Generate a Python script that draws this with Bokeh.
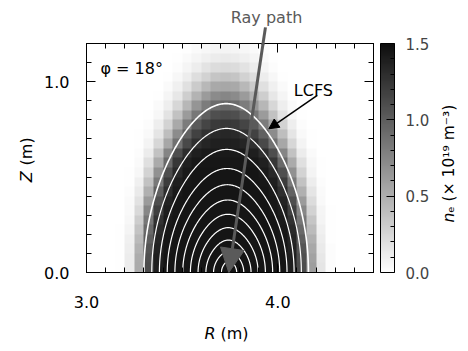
import numpy as np
from bokeh.plotting import figure
from bokeh.models import (LinearColorMapper, ColorBar, FixedTicker, Range1d, Label,
                          Arrow, NormalHead, LinearAxis, NumeralTickFormatter)
from bokeh.embed import file_html
from bokeh.resources import INLINE

# ---------------- data ----------------
R_RANGE = (3.0, 4.5)
Z_RANGE = (0.0, 1.2)
CELL = 0.05   # grid spacing of the density map (m)

# electron density (1e19 m^-3), rows from Z=0 upward, 30 columns from R=3.0
ne_rows = [
    [0,0,0,.01,.12,.52,1.11,1.39,1.45,1.45,1.45,1.45,1.45,1.45,1.45,1.45,1.45,1.45,1.45,1.45,1.45,1.39,1.11,.60,.16,.02,0,0,0,0],
    [0,0,0,.01,.12,.51,1.09,1.39,1.45,1.45,1.45,1.45,1.45,1.45,1.45,1.45,1.45,1.45,1.45,1.45,1.45,1.39,1.09,.58,.15,.02,0,0,0,0],
    [0,0,0,.01,.10,.48,1.06,1.37,1.44,1.45,1.45,1.45,1.45,1.45,1.45,1.45,1.45,1.45,1.45,1.45,1.44,1.37,1.06,.54,.13,.02,0,0,0,0],
    [0,0,0,.01,.09,.43,1.00,1.35,1.44,1.45,1.45,1.45,1.45,1.45,1.45,1.45,1.45,1.45,1.45,1.45,1.44,1.35,1.00,.49,.11,.01,0,0,0,0],
    [0,0,0,.01,.07,.37,.93,1.32,1.43,1.45,1.45,1.45,1.45,1.45,1.45,1.45,1.45,1.45,1.45,1.45,1.43,1.32,.93,.42,.09,.01,0,0,0,0],
    [0,0,0,0,.05,.31,.84,1.27,1.42,1.45,1.45,1.45,1.45,1.45,1.45,1.45,1.45,1.45,1.45,1.45,1.42,1.27,.84,.36,.07,.01,0,0,0,0],
    [0,0,0,0,.04,.24,.74,1.19,1.40,1.44,1.45,1.45,1.45,1.45,1.45,1.45,1.45,1.45,1.45,1.44,1.40,1.19,.74,.28,.06,.01,0,0,0,0],
    [0,0,0,0,.03,.18,.62,1.10,1.36,1.44,1.45,1.45,1.45,1.45,1.45,1.45,1.45,1.45,1.45,1.44,1.36,1.10,.62,.22,.04,0,0,0,0,0],
    [0,0,0,0,.02,.13,.49,.98,1.30,1.42,1.45,1.45,1.45,1.45,1.45,1.45,1.45,1.45,1.45,1.42,1.30,.98,.49,.16,.03,0,0,0,0,0],
    [0,0,0,0,.01,.09,.38,.83,1.21,1.39,1.44,1.45,1.45,1.45,1.45,1.45,1.45,1.45,1.44,1.39,1.21,.83,.38,.11,.02,0,0,0,0,0],
    [0,0,0,0,.01,.05,.27,.68,1.09,1.33,1.42,1.45,1.45,1.45,1.45,1.45,1.45,1.45,1.42,1.33,1.09,.68,.27,.07,.01,0,0,0,0,0],
    [0,0,0,0,0,.03,.19,.52,.93,1.24,1.38,1.43,1.44,1.44,1.44,1.44,1.44,1.43,1.38,1.24,.93,.52,.19,.05,.01,0,0,0,0,0],
    [0,0,0,0,0,.02,.12,.38,.76,1.10,1.30,1.39,1.42,1.42,1.42,1.42,1.42,1.39,1.30,1.10,.76,.38,.12,.03,0,0,0,0,0,0],
    [0,0,0,0,0,.01,.07,.25,.55,.88,1.13,1.28,1.35,1.38,1.39,1.38,1.35,1.28,1.13,.88,.55,.25,.07,.01,0,0,0,0,0,0],
    [0,0,0,0,0,.01,.04,.16,.40,.71,.98,1.17,1.27,1.32,1.34,1.32,1.27,1.17,.98,.71,.40,.16,.04,.01,0,0,0,0,0,0],
    [0,0,0,0,0,0,.02,.10,.27,.53,.81,1.02,1.15,1.22,1.24,1.22,1.15,1.02,.81,.53,.27,.10,.02,0,0,0,0,0,0,0],
    [0,0,0,0,0,0,.01,.05,.17,.38,.62,.84,1.00,1.09,1.11,1.09,1.00,.84,.62,.38,.17,.05,.01,0,0,0,0,0,0,0],
    [0,0,0,0,0,0,0,.03,.10,.25,.45,.66,.81,.91,.94,.91,.81,.66,.45,.25,.10,.03,0,0,0,0,0,0,0,0],
    [0,0,0,0,0,0,0,.01,.06,.15,.30,.47,.62,.72,.75,.72,.62,.47,.30,.15,.06,.01,0,0,0,0,0,0,0,0],
    [0,0,0,0,0,0,0,0,.03,.09,.19,.32,.44,.53,.55,.53,.44,.32,.19,.09,.03,0,0,0,0,0,0,0,0,0],
    [0,0,0,0,0,0,0,0,.01,.05,.11,.20,.28,.36,.38,.36,.28,.20,.11,.05,.01,0,0,0,0,0,0,0,0,0],
    [0,0,0,0,0,0,0,0,0,.02,.06,.11,.17,.22,.23,.22,.17,.11,.06,.02,0,0,0,0,0,0,0,0,0,0],
    [0,0,0,0,0,0,0,0,0,.01,.03,.06,.09,.12,.13,.12,.09,.06,.03,.01,0,0,0,0,0,0,0,0,0,0],
    [0,0,0,0,0,0,0,0,0,0,.01,.03,.05,.06,.07,.06,.05,.03,.01,0,0,0,0,0,0,0,0,0,0,0],
]

# flux-surface contours (outermost = LCFS): centre R, half-width at Z=0, top height
contour_center    = [3.730, 3.732, 3.733, 3.735, 3.736, 3.738, 3.739, 3.740, 3.742, 3.743, 3.745]
contour_halfwidth = [0.430, 0.391, 0.352, 0.313, 0.274, 0.235, 0.196, 0.157, 0.118, 0.079, 0.040]
contour_height    = [0.885, 0.755, 0.645, 0.545, 0.460, 0.380, 0.305, 0.235, 0.170, 0.110, 0.060]
SHAPE_PEAK = 0.15   # narrowing of the surfaces towards their top

x_major = [3.0, 4.0]
x_minor = [3.1, 3.2, 3.3, 3.4, 3.5, 3.6, 3.7, 3.8, 3.9, 4.1, 4.2, 4.3, 4.4, 4.5]
y_major = [0.0, 1.0]
y_minor = [0.1, 0.2, 0.3, 0.4, 0.5, 0.6, 0.7, 0.8, 0.9, 1.1, 1.2]
cb_major = [0.0, 0.5, 1.0, 1.5]
cb_minor = [0.1, 0.2, 0.3, 0.4, 0.6, 0.7, 0.8, 0.9, 1.1, 1.2, 1.3, 1.4]
NE_MAX = 1.5

# annotation positions (data units)
RAY_START = (3.9355, 1.2856)
RAY_END = (3.7437, 0.0)
RAY_OUTSIDE_MID = (3.9283, 1.238)   # centre of the part of the ray drawn above the frame
RAY_ANGLE = -0.150
LCFS_ARROW_START = (4.206, 0.928)
LCFS_ARROW_END = (3.953, 0.753)

# ---------------- styling ----------------
FONT = "DejaVu Sans"
FS = "16px"
RAY_COLOR = "#5a5a5a"

levels = np.linspace(255, 14, 256)
palette = ["#%02x%02x%02x" % (int(g), int(g), int(g)) for g in levels]

p = figure(width=468, height=351, x_range=Range1d(*R_RANGE), y_range=Range1d(*Z_RANGE),
           output_backend="svg", toolbar_location=None,
           min_border_left=86, min_border_right=95, min_border_top=43, min_border_bottom=79)
p.grid.visible = False
p.outline_line_color = "black"
p.outline_line_width = 1
p.background_fill_color = "white"
p.border_fill_color = "white"

ne = np.array(ne_rows, dtype=float)
mapper = LinearColorMapper(palette=palette, low=0.0, high=NE_MAX)
p.image(image=[ne], x=R_RANGE[0], y=Z_RANGE[0], dw=ne.shape[1] * CELL, dh=ne.shape[0] * CELL,
        color_mapper=mapper)

# contours
t = np.linspace(0, np.pi, 181)
xs, ys, widths = [], [], []
for i, (c, w, h) in enumerate(zip(contour_center, contour_halfwidth, contour_height)):
    xs.append(list(c + w * np.cos(t) * (1 - SHAPE_PEAK * np.sin(t) ** 2)))
    ys.append(list(h * np.sin(t)))
    widths.append(1.6 if i == 0 else 1.2)
p.multi_line(xs=xs, ys=ys, line_color="white", line_width=widths)


def style_axis(ax, major, minor, labels=True):
    ax.ticker = FixedTicker(ticks=major, minor_ticks=minor)
    ax.formatter = NumeralTickFormatter(format="0.0")
    ax.major_tick_in = 9
    ax.major_tick_out = 0
    ax.minor_tick_in = 5
    ax.minor_tick_out = 0
    ax.major_tick_line_color = "black"
    ax.minor_tick_line_color = "black"
    ax.axis_line_color = "black"
    ax.major_label_text_font = FONT
    ax.major_label_text_font_size = FS
    ax.major_label_text_color = "black"
    if not labels:
        ax.major_label_text_color = None
        ax.major_label_text_font_size = "1px"
        ax.major_label_standoff = 0


style_axis(p.xaxis[0], x_major, x_minor)
p.xaxis[0].major_label_standoff = 23
style_axis(p.yaxis[0], y_major, y_minor)
p.yaxis[0].major_label_standoff = 17

top = LinearAxis()
style_axis(top, x_major, x_minor, labels=False)
p.add_layout(top, "above")
right = LinearAxis()
style_axis(right, y_major, y_minor, labels=False)
p.add_layout(right, "right")

cb = ColorBar(color_mapper=mapper, ticker=FixedTicker(ticks=cb_major, minor_ticks=cb_minor),
              formatter=NumeralTickFormatter(format="0.0"), width=14, height=229,
              location=(7, 0), padding=0, margin=0,
              major_tick_in=8, major_tick_out=0, minor_tick_in=4, minor_tick_out=0,
              major_tick_line_color="black", minor_tick_line_color="black",
              bar_line_color="black", border_line_color=None, background_fill_color=None,
              label_standoff=11, major_label_text_font=FONT, major_label_text_font_size="15px")
p.add_layout(cb, "right")


def label(x, y, text, place=None, size=FS, style="normal", align="left", baseline="alphabetic",
          angle=0.0, color="black", **kw):
    lab = Label(x=x, y=y, text=text, text_font=FONT, text_font_size=size,
                text_font_style=style, text_align=align, text_baseline=baseline,
                angle=angle, text_color=color, **kw)
    if place is None:
        p.add_layout(lab)
    else:
        p.add_layout(lab, place)


# arrows
p.add_layout(Arrow(end=NormalHead(size=24, fill_color=RAY_COLOR, line_color=RAY_COLOR),
                   x_start=RAY_START[0], y_start=RAY_START[1], x_end=RAY_END[0], y_end=RAY_END[1],
                   line_color=RAY_COLOR, line_width=3))
# part of the ray above the frame (side-panel annotations are not clipped to the frame)
label(RAY_OUTSIDE_MID[0], RAY_OUTSIDE_MID[1], "\u2009", place="above", size="15px",
      align="center", baseline="middle", angle=RAY_ANGLE, color=RAY_COLOR,
      background_fill_color=RAY_COLOR)
p.add_layout(Arrow(end=NormalHead(size=10, fill_color="black", line_color="black"),
                   x_start=LCFS_ARROW_START[0], y_start=LCFS_ARROW_START[1],
                   x_end=LCFS_ARROW_END[0], y_end=LCFS_ARROW_END[1],
                   line_color="black", line_width=1.5))

# texts
label(3.941, 1.336, "Ray path", place="above", align="center", color=RAY_COLOR)
label(3.073, 1.069, "φ = 18°")
label(4.0835, 0.954, "LCFS")

# axis titles
label(3.617, -0.322, "R", place="below", style="italic")
label(3.700, -0.322, "(m)", place="below")
label(2.685, 0.473, "Z", place="left", style="italic", angle=np.pi / 2, baseline="middle")
label(2.685, 0.561, "(m)", place="left", angle=np.pi / 2, baseline="middle")

# colorbar title (rotated, reading upwards)
CBX = 4.892
TFS = "15.5px"
label(CBX, 0.262, "n", place="right", size=TFS, style="italic", angle=np.pi / 2, baseline="middle")
label(CBX, 0.313, "\u2091 (× 10\u00b9\u2079 m\u207b\u00b3)", place="right", size=TFS,
      angle=np.pi / 2, baseline="middle")

open("out.html", "w").write(file_html(p, INLINE))
